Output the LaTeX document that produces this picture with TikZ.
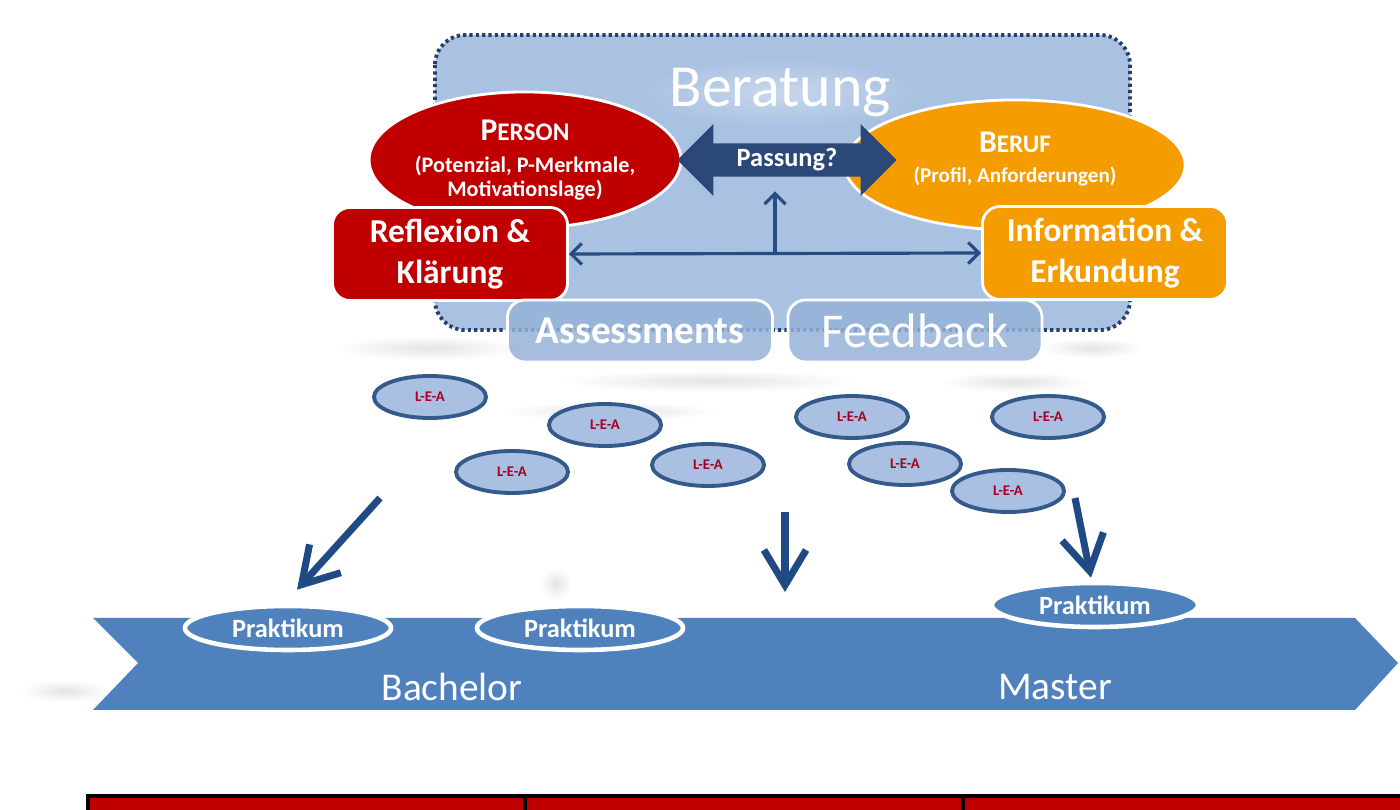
\documentclass[tikz,border=0pt]{standalone}
\usepackage{fontspec}
\setmainfont{Carlito}
\usetikzlibrary{shapes.geometric,shapes.arrows,arrows.meta,calc,fadings}

\definecolor{beratblue}{RGB}{170,194,226}
\definecolor{dotnavy}{RGB}{40,62,110}
\definecolor{personred}{RGB}{192,0,0}
\definecolor{berufor}{RGB}{245,156,0}
\definecolor{passnavy}{RGB}{44,72,120}
\definecolor{linknavy}{RGB}{38,76,130}
\definecolor{dropnavy}{RGB}{31,74,132}
\definecolor{toolblue}{RGB}{150,178,216}
\definecolor{leafill}{RGB}{170,192,226}
\definecolor{leaedge}{RGB}{52,90,140}
\definecolor{leatext}{RGB}{165,0,33}
\definecolor{bannerblue}{RGB}{79,129,189}

\tikzfading[name=softblob, inner color=transparent!0, outer color=transparent!100]

% small caps by hand: first letter large, rest smaller
\newcommand\capword[2]{{\fontsize{9}{10}\selectfont #1}{\fontsize{7.2}{10}\selectfont #2}}

\begin{document}
\begin{tikzpicture}[
  x=0.01cm, y=-0.01cm,
  >={Straight Barb[length=3pt,width=6pt]},
  bubble/.style={ellipse, draw=white, line width=0.8pt, text=white, inner sep=0pt, align=center},
  tagbox/.style={draw=white, line width=0.8pt, rounded corners=5pt, text=white, align=center, font=\bfseries\fontsize{9.5}{11.5}\selectfont},
  toolbox/.style={draw=white, line width=0.8pt, fill=toolblue, fill opacity=0.85, text opacity=1, rounded corners=5pt, minimum height=0.62cm, text=white},
  lea/.style={ellipse, draw=leaedge, line width=1.1pt, fill=leafill, minimum width=1.12cm, minimum height=0.42cm, inner sep=0pt, text=leatext, font=\bfseries\fontsize{4.2}{5}\selectfont},
  prak/.style={ellipse, draw=white, line width=1.3pt, fill=bannerblue, minimum width=2.06cm, minimum height=0.44cm, inner sep=0pt, text=white, font=\bfseries\fontsize{7.5}{8}\selectfont},
  link/.style={draw=linknavy, line width=0.9pt},
  drop/.style={draw=dropnavy, line width=2pt, -{Straight Barb[length=10pt,width=12pt]}},
  smudge/.style={fill=gray!70, opacity=0.3, path fading=softblob},
]
\useasboundingbox (0,0) rectangle (1400,810);

% --- Beratung: Hintergrundfeld mit gepunktetem Rand ---
\draw[draw=dotnavy, line width=1.1pt, dash pattern=on 0.9pt off 0.9pt, fill=beratblue, rounded corners=0.3cm]
  (435,35) rectangle (1130,330);
\fill[white, opacity=0.35, path fading=softblob] (640,58) rectangle (920,128);
\node[text=white, font=\fontsize{17}{20}\selectfont] (beratung) at (780,92) {Beratung};

% --- Person und Beruf ---
\node[bubble, fill=personred, minimum width=3.04cm, minimum height=1.36cm,
  font=\bfseries\fontsize{6.3}{6.6}\selectfont] (person) at (525,160)
  {\capword{P}{ERSON}\\[2.6pt](Potenzial, P-Merkmale,\\Motivationslage)};
\node[bubble, fill=berufor, minimum width=3.4cm, minimum height=1.3cm] (beruf) at (1015,165) {};
\node[text=white, align=center, font=\bfseries\fontsize{6}{6.3}\selectfont] (beruftext) at ($(beruf)+(0,-6)$)
  {\capword{B}{ERUF}\\[2pt](Profil, Anforderungen)};

% --- Passung (Doppelpfeil zwischen Person und Beruf) ---
\node[double arrow, fill=passnavy, text=white, font=\bfseries\fontsize{7.5}{8}\selectfont,
  minimum height=2.19cm, minimum width=0.72cm, double arrow head extend=0.18cm, inner ysep=1pt]
  (passung) at (787,160) {Passung?};

% --- Reflexion und Information ---
\node[tagbox, fill=personred, minimum width=2.35cm, minimum height=0.82cm] (reflexion) at (450,254)
  {Reflexion \&\\Klärung};
\node[tagbox, fill=berufor, minimum width=2.45cm, minimum height=0.73cm] (information) at (1105,253)
  {Information \&\\Erkundung};

\draw[link,<->] (reflexion.east) -- (information.west);
\coordinate (mid) at (775,252);
\draw[link,->, shorten >=0.14cm] (mid) -- (mid |- passung.south);

% --- Assessments und Feedback ---
\node[toolbox, minimum width=2.65cm, font=\bfseries\fontsize{11.2}{12}\selectfont] (assess) at (640,331) {Assessments};
\node[toolbox, minimum width=2.54cm, font=\fontsize{13.8}{15}\selectfont] (feedback) at (915,331) {Feedback};

% --- unscharfe Schatten ---
\fill[smudge] (335,336) rectangle (525,360);
\fill[smudge] (1040,338) rectangle (1145,358);
\fill[smudge] (560,370) rectangle (860,392);
\fill[smudge] (940,372) rectangle (1090,392);
\fill[smudge] (500,402) rectangle (720,420);
\fill[smudge] (540,568) rectangle (572,600);
\fill[smudge] (20,680) rectangle (110,702);

% --- Lern-Entwicklungs-Aufgaben ---
\node[lea] (lea1) at (430,397) {L-E-A};
\node[lea] (lea2) at (605,425) {L-E-A};
\node[lea] (lea3) at (512,472) {L-E-A};
\node[lea] (lea4) at (708,465) {L-E-A};
\node[lea] (lea5) at (852,417) {L-E-A};
\node[lea] (lea6) at (905,464) {L-E-A};
\node[lea] (lea7) at (1048,417) {L-E-A};
\node[lea] (lea8) at (1008,491) {L-E-A};

% --- Studienverlauf (Band mit Spitze) ---
\fill[bannerblue] (93,618) -- (1355,618) -- (1398,663) -- (1355,710) -- (93,710) -- (138,663) -- cycle;
\node[text=white, font=\fontsize{11.2}{13}\selectfont] (bachelor) at (452,687) {Bachelor};
\node[text=white, font=\fontsize{11.2}{13}\selectfont] (master) at (1055,687) {Master};

\node[prak] (prak1) at (288,628) {Praktikum};
\node[prak] (prak2) at (580,628) {Praktikum};
\node[prak] (prak3) at (1095,605) {Praktikum};

% --- Pfeile zum Studienverlauf ---
\coordinate (d1) at (380,498);
\coordinate (d2) at (785,512);
\coordinate (d3) at (1075,498);
\coordinate (e2) at (785,592);
\draw[drop] (d1) -- ($(prak1.north)+(9,-14)$);
\draw[drop] (d2) -- (e2);
\draw[drop] (d3) -- ($(prak3.north)+(-4,-3)$);

% --- Tabellenkopf (unten angeschnitten) ---
\draw[fill=personred, line width=1pt] (88,796) rectangle (1403,816);
\draw[line width=1pt] (525,796) -- (525,816);
\draw[line width=1pt] (963,796) -- (963,816);

\end{tikzpicture}
\end{document}
